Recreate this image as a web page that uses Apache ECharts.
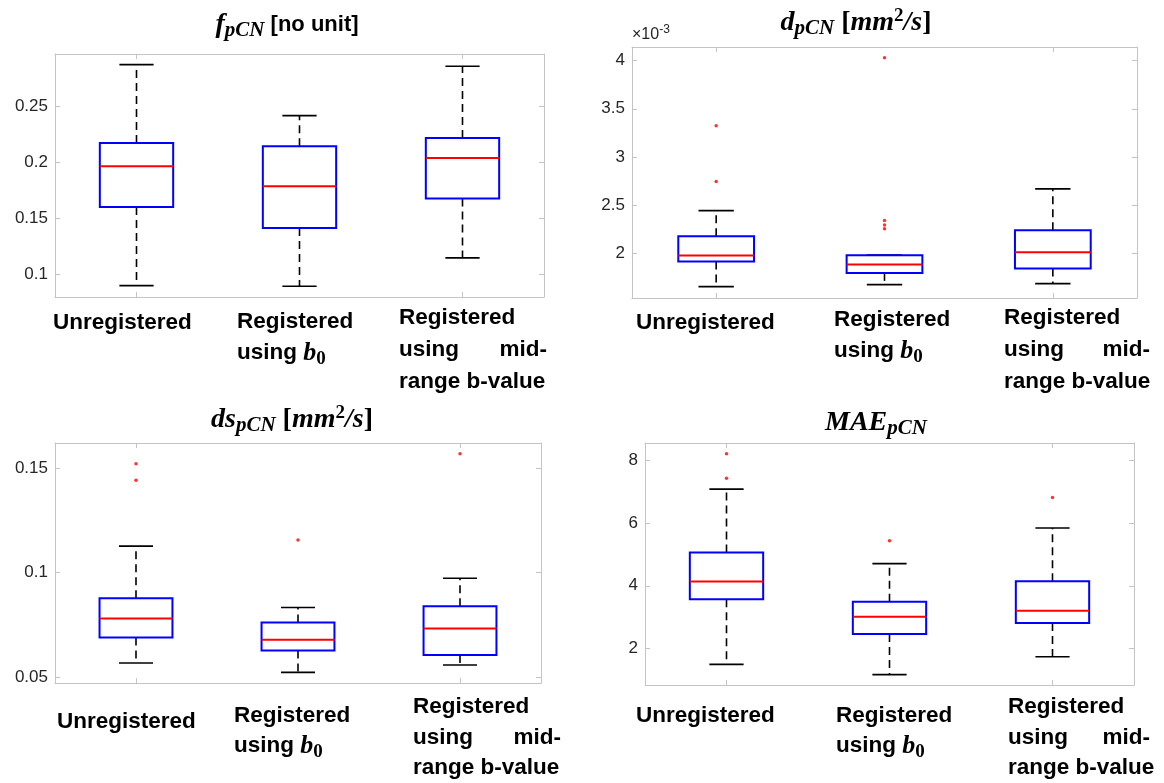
<!DOCTYPE html>
<html>
<head>
<meta charset="utf-8">
<script src="https://cdn.jsdelivr.net/npm/echarts@6/dist/echarts.min.js"></script>
<style>
  html, body { margin: 0; padding: 0; background: #fff; }
  #main { width: 1164px; height: 783px; }
</style>
</head>
<body>
<div id="main"></div>
<script>
// x categories (same in every panel)
const categories = ['Unregistered', 'Registered using b0', 'Registered using mid-range b-value'];

// boxes: [min whisker, Q1, median, Q3, max whisker] per category
const fBoxes = [
  [0.0902, 0.1604, 0.1967, 0.2176, 0.2875],
  [0.0896, 0.1417, 0.1789, 0.2146, 0.2420],
  [0.1149, 0.1680, 0.2042, 0.2220, 0.2860]
];
const fOutliers = [];

// d_pCN in units of 1e-3
const dBoxes = [
  [1.658, 1.917, 1.979, 2.179, 2.445],
  [1.679, 1.800, 1.886, 1.982, 1.985],
  [1.689, 1.845, 2.014, 2.242, 2.670]
];
const dOutliers = [[0, 3.324], [0, 2.746], [1, 4.028], [1, 2.342], [1, 2.295], [1, 2.258]];

const dsBoxes = [
  [0.0567, 0.0689, 0.0780, 0.0877, 0.1127],
  [0.0522, 0.0627, 0.0678, 0.0761, 0.0833],
  [0.0557, 0.0605, 0.0732, 0.0839, 0.0973]
];
const dsOutliers = [[0, 0.1522], [0, 0.1443], [1, 0.1156], [2, 0.1570]];

const maeBoxes = [
  [1.490, 3.572, 4.135, 5.059, 7.088],
  [1.161, 2.457, 3.009, 3.487, 4.708],
  [1.734, 2.807, 3.200, 4.145, 5.845]
];
const maeOutliers = [[0, 8.213], [0, 7.438], [1, 5.441], [2, 6.822]];

// y axis extents
const fRange = [0.080, 0.297];
const dRange = [1.54, 4.14];
const dsRange = [0.0471, 0.1621];
const maeRange = [0.83, 8.56];

// category label lines (rich text), '|' splits a justified line
const labelLines = [
  ['Unregistered'],
  ['Registered', 'using {b|b}{s|0}'],
  ['Registered', 'using|mid-', 'range b-value']
];

const chart = echarts.init(document.getElementById('main'));

const SERIF = 'Liberation Serif';
const SANS = 'Liberation Sans';
const FRAME = '#c4c4c4';

// panel layout
const panels = [
  { boxes: fBoxes, outliers: fOutliers, range: fRange, split: 5,
    grid: { left: 55, top: 54, width: 489, height: 243 },
    title: { x: 287, y: 25, text: '{m|f}{sub|pCN}{t| [no unit]}' },
    labX: [53, 237, 399], labR: 547, labY: [[323], [322, 353], [318, 350, 382]] },
  { boxes: dBoxes, outliers: dOutliers, range: dRange, split: 5,
    grid: { left: 632, top: 47, width: 505, height: 251 },
    title: { x: 856, y: 23, text: '{m|d}{sub|pCN}{br| [}{m|mm}{sup|2}{m|/s}{br|]}' },
    labX: [636, 834, 1004], labR: 1150, labY: [[323], [320, 351], [318, 350, 382]] },
  { boxes: dsBoxes, outliers: dsOutliers, range: dsRange, split: 2,
    grid: { left: 55, top: 443, width: 486, height: 240 },
    title: { x: 292, y: 420, text: '{m|ds}{sub|pCN}{br| [}{m|mm}{sup|2}{m|/s}{br|]}' },
    labX: [57, 234, 413], labR: 561, labY: [[722], [716, 746], [707, 738, 768]] },
  { boxes: maeBoxes, outliers: maeOutliers, range: maeRange, split: 5,
    grid: { left: 645, top: 443, width: 489, height: 242 },
    title: { x: 876, y: 423, text: '{m|MAE}{sub|pCN}' },
    labX: [636, 836, 1008], labR: 1150, labY: [[716], [716, 746], [707, 738, 768]] }
];

const mathRich = {
  m: { fontFamily: SERIF, fontStyle: 'italic', fontWeight: 'bold', fontSize: 28, color: '#000' },
  sub: { fontFamily: SERIF, fontStyle: 'italic', fontWeight: 'bold', fontSize: 21, color: '#000', padding: [12, 0, 0, 0] },
  sup: { fontFamily: SERIF, fontWeight: 'bold', fontSize: 19, color: '#000', padding: [0, 0, 14, 0] },
  br: { fontFamily: SERIF, fontWeight: 'bold', fontSize: 28, color: '#000' },
  t: { fontFamily: SANS, fontWeight: 'bold', fontSize: 22, color: '#000' }
};

const labelRich = {
  b: { fontFamily: SERIF, fontStyle: 'italic', fontWeight: 'bold', fontSize: 26, color: '#000' },
  s: { fontFamily: SERIF, fontWeight: 'bold', fontSize: 19, color: '#000', padding: [12, 0, 0, 0] }
};

function renderBox(params, api) {
  const x = api.value(0);
  const lo = api.coord([x, api.value(1)]);
  const q1 = api.coord([x, api.value(2)]);
  const med = api.coord([x, api.value(3)]);
  const q3 = api.coord([x, api.value(4)]);
  const hi = api.coord([x, api.value(5)]);
  const band = api.size([1, 0])[0];
  const bw = band * 0.45;
  const cw = band * 0.21;
  const cx = lo[0];
  const dash = { stroke: '#000', lineWidth: 1.6, lineDash: [8, 5] };
  const solid = { stroke: '#000', lineWidth: 1.6 };
  return {
    type: 'group',
    children: [
      { type: 'line', shape: { x1: cx, y1: q3[1], x2: cx, y2: hi[1] }, style: dash },
      { type: 'line', shape: { x1: cx, y1: q1[1], x2: cx, y2: lo[1] }, style: dash },
      { type: 'line', shape: { x1: cx - cw / 2, y1: hi[1], x2: cx + cw / 2, y2: hi[1] }, style: solid },
      { type: 'line', shape: { x1: cx - cw / 2, y1: lo[1], x2: cx + cw / 2, y2: lo[1] }, style: solid },
      { type: 'rect', shape: { x: cx - bw / 2, y: q3[1], width: bw, height: q1[1] - q3[1] },
        style: { fill: 'none', stroke: '#0000ff', lineWidth: 2 } },
      { type: 'line', shape: { x1: cx - bw / 2, y1: med[1], x2: cx + bw / 2, y2: med[1] },
        style: { stroke: '#ff0000', lineWidth: 2 } }
    ]
  };
}

const grids = [], xAxes = [], yAxes = [], series = [], graphics = [];

panels.forEach((p, i) => {
  grids.push(p.grid);
  const xBase = {
    gridIndex: i, type: 'category', data: categories, boundaryGap: true,
    axisLine: { show: true, onZero: false, lineStyle: { color: FRAME, width: 1 } },
    axisTick: { show: true, inside: true, alignWithLabel: true, length: 5, lineStyle: { color: FRAME } },
    axisLabel: { show: false }, splitLine: { show: false }
  };
  xAxes.push(Object.assign({}, xBase, { position: 'bottom' }));
  xAxes.push(Object.assign({}, xBase, { position: 'top' }));
  const yBase = {
    gridIndex: i, type: 'value', min: p.range[0], max: p.range[1], splitNumber: p.split,
    axisLine: { show: true, lineStyle: { color: FRAME, width: 1 } },
    axisTick: { show: true, inside: true, length: 5, lineStyle: { color: FRAME } },
    splitLine: { show: false }
  };
  yAxes.push(Object.assign({}, yBase, {
    position: 'left',
    axisLabel: { show: true, fontFamily: SANS, fontSize: 17, color: '#262626', margin: 7,
      showMinLabel: false, showMaxLabel: false }
  }));
  yAxes.push(Object.assign({}, yBase, { position: 'right', axisLabel: { show: false } }));

  series.push({
    type: 'custom', xAxisIndex: 2 * i, yAxisIndex: 2 * i,
    renderItem: renderBox,
    encode: { x: 0, y: [1, 2, 3, 4, 5] },
    data: p.boxes.map((b, k) => [k].concat(b)),
    clip: false
  });
  series.push({
    type: 'scatter', xAxisIndex: 2 * i, yAxisIndex: 2 * i,
    symbol: 'circle', symbolSize: 3.5,
    itemStyle: { color: '#ff0000' },
    data: p.outliers
  });

  // title
  graphics.push({
    type: 'text', x: p.title.x, y: p.title.y,
    style: { text: p.title.text, rich: mathRich, align: 'center', verticalAlign: 'middle',
      textAlign: 'center', textVerticalAlign: 'middle' }
  });

  // category labels
  labelLines.forEach((lines, c) => {
    lines.forEach((ln, j) => {
      const y = p.labY[c][j];
      const base = { fontFamily: SANS, fontWeight: 'bold', fontSize: 22.5, fill: '#000',
        verticalAlign: 'middle', textVerticalAlign: 'middle', rich: labelRich };
      if (ln.indexOf('|') >= 0 && ln.indexOf('{') < 0) {
        const parts = ln.split('|');
        graphics.push({ type: 'text', x: p.labX[c], y: y,
          style: Object.assign({}, base, { text: parts[0], align: 'left', textAlign: 'left' }) });
        graphics.push({ type: 'text', x: p.labR, y: y,
          style: Object.assign({}, base, { text: parts[1], align: 'right', textAlign: 'right' }) });
      } else {
        graphics.push({ type: 'text', x: p.labX[c], y: y,
          style: Object.assign({}, base, { text: ln, align: 'left', textAlign: 'left' }) });
      }
    });
  });
});

// exponent label of d_pCN axis
graphics.push({
  type: 'text', x: 632, y: 35,
  style: { text: '×10{e|-3}', fontFamily: SANS, fontSize: 16, fill: '#262626',
    align: 'left', textAlign: 'left', verticalAlign: 'middle', textVerticalAlign: 'middle',
    rich: { e: { fontFamily: SANS, fontSize: 12, color: '#262626', padding: [0, 0, 10, 0] } } }
});

chart.setOption({
  animation: false,
  backgroundColor: '#fff',
  grid: grids,
  xAxis: xAxes,
  yAxis: yAxes,
  series: series,
  graphic: graphics
});
</script>
</body>
</html>
